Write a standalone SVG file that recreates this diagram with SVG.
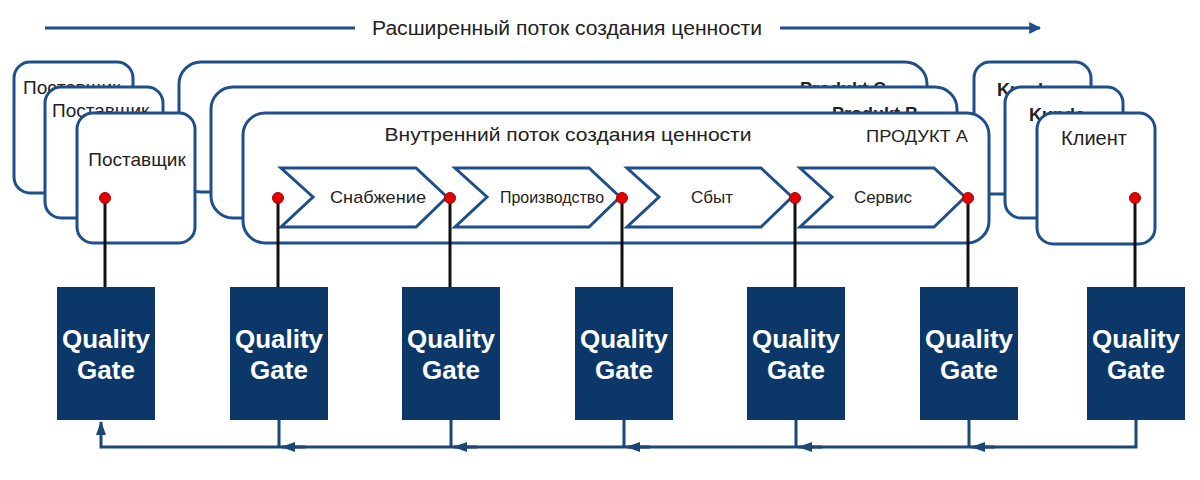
<svg xmlns="http://www.w3.org/2000/svg" width="1200" height="480" viewBox="0 0 1200 480">
<style>
text{font-family:"Liberation Sans",Arial,sans-serif;fill:#222}
.box{fill:#fff;stroke:#1f4f8a;stroke-width:3}
.chev{fill:#fff;stroke:#1f4f8a;stroke-width:3;stroke-linejoin:miter}
.gate{fill:#0b3769}
.gt{fill:#fff;font-weight:bold;font-size:26px;text-anchor:middle}
.lbl{font-size:19px}
.ch{font-size:17px;text-anchor:middle}
.hid{font-size:18px;font-weight:bold}
.flow{fill:none;stroke:#1f4f8a;stroke-width:3}
.ret{fill:none;stroke:#1a4775;stroke-width:3}
.stem{stroke:#111;stroke-width:3}
.dot{fill:#e00000;stroke:#b00000;stroke-width:1}
</style>
<defs>
<marker id="ah" viewBox="0 0 14 10" refX="13" refY="5" markerUnits="userSpaceOnUse" markerWidth="14" markerHeight="10" orient="auto">
<path d="M0,0 L14,5 L0,10 z" fill="#1a4775"/>
</marker>
<marker id="ahTop" viewBox="0 0 10 10" refX="9" refY="5" markerWidth="4" markerHeight="4" orient="auto">
<path d="M0,0 L10,5 L0,10 z" fill="#1f4f8a"/>
</marker>
</defs>

<g id="header">
<line class="flow" x1="45" y1="28" x2="355" y2="28"/>
<text x="567" y="35" font-size="20" text-anchor="middle" textLength="390" lengthAdjust="spacingAndGlyphs">Расширенный поток создания ценности</text>
<line class="flow" x1="780" y1="28" x2="1040" y2="28" marker-end="url(#ahTop)"/>
</g>

<g id="client-back-1">
<rect class="box" x="974" y="62" width="117" height="132" rx="16"/>
<text class="hid" x="997" y="96">Kunde</text>
</g>
<g id="product-c">
<rect class="box" x="179" y="62" width="748" height="130" rx="22"/>
<text class="hid" x="800" y="95">Produkt C</text>
</g>
<g id="supplier-back-1">
<rect class="box" x="14" y="62" width="119" height="131" rx="16"/>
<text class="lbl" x="23" y="94">Поставщик</text>
</g>
<g id="supplier-back-2">
<rect class="box" x="45" y="87" width="118" height="131" rx="16"/>
<text class="lbl" x="52" y="117">Поставщик</text>
</g>
<g id="supplier">
<rect class="box" x="77" y="113" width="118" height="130" rx="16"/>
<text class="lbl" x="137" y="166" text-anchor="middle">Поставщик</text>
</g>
<g id="product-b">
<rect class="box" x="211" y="87" width="746" height="131" rx="22"/>
<text class="hid" x="832" y="120">Produkt B</text>
</g>
<g id="product-a">
<rect class="box" x="243" y="113" width="746" height="130" rx="22"/>
<text x="568" y="141" font-size="19" text-anchor="middle" textLength="367" lengthAdjust="spacingAndGlyphs">Внутренний поток создания ценности</text>
<text x="917" y="142" font-size="17" text-anchor="middle" textLength="102" lengthAdjust="spacingAndGlyphs">ПРОДУКТ А</text>
</g>
<g id="client-back-2">
<rect class="box" x="1005" y="87" width="118" height="131" rx="16"/>
<text class="hid" x="1029" y="121">Kunde</text>
</g>
<g id="client">
<rect class="box" x="1037" y="113" width="118" height="131" rx="16"/>
<text x="1094" y="145" font-size="20" text-anchor="middle">Клиент</text>
</g>

<g id="chevron-supply">
<polygon class="chev" points="281,168 416,168 447,197 416,227 281,227 313,197"/>
<text class="ch" x="378" y="203" textLength="96" lengthAdjust="spacingAndGlyphs">Снабжение</text>
</g>
<g id="chevron-production">
<polygon class="chev" points="455,168 589,168 620,197 589,227 455,227 487,197"/>
<text class="ch" x="552" y="203" textLength="104" lengthAdjust="spacingAndGlyphs">Производство</text>
</g>
<g id="chevron-sales">
<polygon class="chev" points="627,168 761,168 792,197 761,227 627,227 659,197"/>
<text class="ch" x="712" y="203">Сбыт</text>
</g>
<g id="chevron-service">
<polygon class="chev" points="800,168 934,168 965,197 934,227 800,227 832,197"/>
<text class="ch" x="883" y="203">Сервис</text>
</g>

<g id="connectors">
<line class="stem" x1="105" y1="198" x2="105" y2="287"/>
<line class="stem" x1="278" y1="198" x2="278" y2="287"/>
<line class="stem" x1="450" y1="198" x2="450" y2="287"/>
<line class="stem" x1="622" y1="198" x2="622" y2="287"/>
<line class="stem" x1="795" y1="198" x2="795" y2="287"/>
<line class="stem" x1="968" y1="198" x2="968" y2="287"/>
<line class="stem" x1="1135" y1="198" x2="1135" y2="287"/>
<path class="ret" d="M1136,420 V447 H101 V422" marker-end="url(#ah)"/>
<line class="ret" x1="969" y1="420" x2="969" y2="447"/>
<line class="ret" x1="796" y1="420" x2="796" y2="447"/>
<line class="ret" x1="624" y1="420" x2="624" y2="447"/>
<line class="ret" x1="451" y1="420" x2="451" y2="447"/>
<line class="ret" x1="279" y1="420" x2="279" y2="447"/>
<path class="ret" d="M995,447 H972" marker-end="url(#ah)"/>
<path class="ret" d="M822,447 H799" marker-end="url(#ah)"/>
<path class="ret" d="M650,447 H627" marker-end="url(#ah)"/>
<path class="ret" d="M477,447 H454" marker-end="url(#ah)"/>
<path class="ret" d="M305,447 H282" marker-end="url(#ah)"/>
</g>

<g id="dots">
<circle class="dot" cx="105" cy="198" r="5.5"/>
<circle class="dot" cx="278" cy="198" r="5.5"/>
<circle class="dot" cx="450" cy="198" r="5.5"/>
<circle class="dot" cx="622" cy="198" r="5.5"/>
<circle class="dot" cx="795" cy="198" r="5.5"/>
<circle class="dot" cx="968" cy="198" r="5.5"/>
<circle class="dot" cx="1135" cy="198" r="5.5"/>
</g>

<g id="gate-1"><rect class="gate" x="57" y="287" width="98" height="133"/><text class="gt" x="106" y="348">Quality</text><text class="gt" x="106" y="379">Gate</text></g>
<g id="gate-2"><rect class="gate" x="230" y="287" width="98" height="133"/><text class="gt" x="279" y="348">Quality</text><text class="gt" x="279" y="379">Gate</text></g>
<g id="gate-3"><rect class="gate" x="402" y="287" width="98" height="133"/><text class="gt" x="451" y="348">Quality</text><text class="gt" x="451" y="379">Gate</text></g>
<g id="gate-4"><rect class="gate" x="575" y="287" width="98" height="133"/><text class="gt" x="624" y="348">Quality</text><text class="gt" x="624" y="379">Gate</text></g>
<g id="gate-5"><rect class="gate" x="747" y="287" width="98" height="133"/><text class="gt" x="796" y="348">Quality</text><text class="gt" x="796" y="379">Gate</text></g>
<g id="gate-6"><rect class="gate" x="920" y="287" width="98" height="133"/><text class="gt" x="969" y="348">Quality</text><text class="gt" x="969" y="379">Gate</text></g>
<g id="gate-7"><rect class="gate" x="1087" y="287" width="98" height="133"/><text class="gt" x="1136" y="348">Quality</text><text class="gt" x="1136" y="379">Gate</text></g>
</svg>
